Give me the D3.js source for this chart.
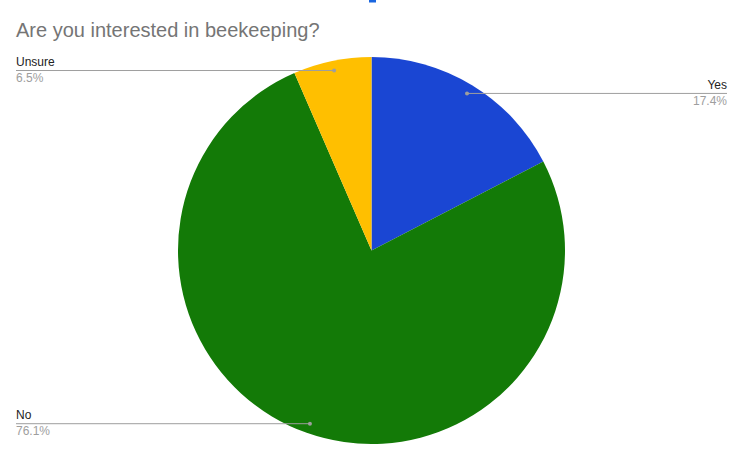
<!DOCTYPE html>
<html><head><meta charset="utf-8">
<script src="https://cdn.jsdelivr.net/npm/d3@7"></script>
<style>body{margin:0;background:#fff}svg{display:block}</style>
</head><body>
<svg id="c" width="734" height="460"></svg>
<script>
const title = "Are you interested in beekeeping?";
const categories = ["Yes", "No", "Unsure"];
const values = [8, 35, 3];
const percentLabels = ["17.4%", "76.1%", "6.5%"];
const colors = ["#1a46d3", "#137a07", "#ffbf00"];
const labelSide = ["right", "left", "left"];

const W = 734, H = 460;
const cx = 371.5, cy = 250.5, R = 193.5;
const svg = d3.select("#c");
svg.append("rect").attr("x", 369).attr("y", 0).attr("width", 7).attr("height", 2.5).attr("fill", "#1a66e0");
svg.append("text").attr("x", 16).attr("y", 37).attr("font-family", "Arial, 'Liberation Sans', sans-serif")
  .attr("font-size", 20).attr("fill", "#757575").text(title);

const data = categories.map((c, i) => ({ name: c, value: values[i], pct: percentLabels[i], color: colors[i], side: labelSide[i] }));
const pie = d3.pie().sort(null).value(d => d.value);
const arcs = pie(data);
const arc = d3.arc().innerRadius(0).outerRadius(R);
const g = svg.append("g").attr("transform", `translate(${cx},${cy})`);
g.selectAll("path").data(arcs).join("path").attr("d", arc).attr("fill", d => d.data.color);

const dotArc = d3.arc().innerRadius(0.95 * R).outerRadius(0.95 * R);
arcs.forEach(a => {
  const [px, py] = dotArc.centroid(a);
  const x = cx + px, y = cy + py;
  const tx = a.data.side === "left" ? 16 : 727;
  svg.append("line").attr("x1", tx).attr("x2", x).attr("y1", y).attr("y2", y)
    .attr("stroke", "#9e9e9e").attr("stroke-width", 1);
  svg.append("circle").attr("cx", x).attr("cy", y).attr("r", 2).attr("fill", "#9e9e9e");
  const anchor = a.data.side === "left" ? "start" : "end";
  svg.append("text").attr("x", tx).attr("y", y - 4.5).attr("text-anchor", anchor)
    .attr("font-family", "Arial, 'Liberation Sans', sans-serif").attr("font-size", 12).attr("fill", "#222").text(a.data.name);
  svg.append("text").attr("x", tx).attr("y", y + 11.5).attr("text-anchor", anchor)
    .attr("font-family", "Arial, 'Liberation Sans', sans-serif").attr("font-size", 12).attr("fill", "#9e9e9e").text(a.data.pct);
});
</script>
</body></html>
